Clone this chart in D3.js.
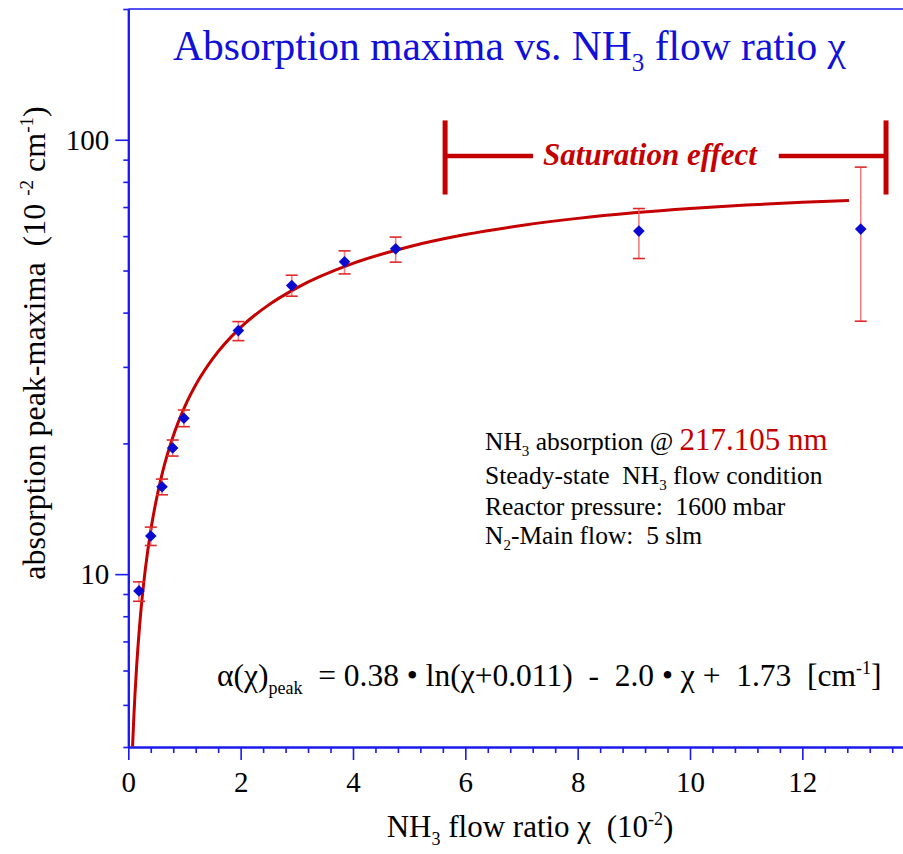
<!DOCTYPE html>
<html>
<head>
<meta charset="utf-8">
<script src="https://cdn.jsdelivr.net/npm/d3@7/dist/d3.min.js"></script>
<style>
  html, body { margin: 0; padding: 0; background: #fff; }
  svg { display: block; font-family: "Liberation Serif", "Times New Roman", serif; }
  svg text { font-family: "Liberation Serif", "Times New Roman", serif !important; white-space: pre; }
</style>
</head>
<body>
<svg id="chart" width="903" height="854"></svg>
<script>
// ---------- data ----------
const flowRatio   = [0.19, 0.40, 0.60, 0.79, 0.99, 1.96, 2.91, 3.85, 4.76, 9.09, 13.04];
const peakMaxima  = [9.15, 12.24, 15.89, 19.51, 22.85, 36.36, 46.16, 52.35, 56.09, 61.62, 62.28];
const errUpper    = [9.60, 12.83, 16.55, 20.36, 23.87, 38.14, 48.77, 55.49, 59.69, 69.45, 86.5];
const errLower    = [8.66, 11.64, 15.23, 18.70, 21.85, 34.48, 43.64, 49.11, 52.27, 53.28, 38.22];

// fitted curve as drawn (values of the printed fit)
const fitX = [0.076, 0.1, 0.12, 0.15, 0.2, 0.25, 0.3, 0.4, 0.5, 0.6, 0.8, 1.0, 1.25, 1.5, 2, 2.5, 3, 4, 5, 6, 7, 8, 9, 10, 11, 12, 12.83];
const fitY = [4.01, 4.73, 5.32, 6.18, 7.57, 8.91, 10.19, 12.61, 14.86, 16.97, 20.79, 24.20, 27.97, 31.31, 37.00, 41.68, 45.62, 51.92, 56.72, 60.49, 63.49, 65.92, 67.88, 69.47, 70.74, 71.76, 72.44];

const xMajorTicks = [0, 2, 4, 6, 8, 10, 12];
const xTickLabels = ["0", "2", "4", "6", "8", "10", "12"];
const yMajorTicks = [10, 100];
const yTickLabels = ["10", "100"];
const yMinorTicks = [4, 5, 6, 7, 8, 9, 20, 30, 40, 50, 60, 70, 80, 90, 200];

// saturation bracket (data coordinates)
const satLeft = 5.64, satRight = 13.49, satY = 91.8, satTop = 110.8, satBottom = 74.8;
const satGapLeft = 7.205, satGapRight = 11.58;

// ---------- layout ----------
const svg = d3.select("#chart");
const W = 903, H = 854;
const x0 = 128.3, pxPerUnit = 56.17;
const plotTop = 9, plotBottom = 747;

const x = d3.scaleLinear().domain([0, 14]).range([x0, x0 + 14 * pxPerUnit]);
const y = d3.scaleLog().domain([4, 200]).range([plotBottom, plotTop]);

const axisBlue = "#1a1aee";
const darkRed = "#c40000";

svg.append("rect").attr("width", W).attr("height", H).attr("fill", "#fff");

svg.append("defs").append("clipPath").attr("id", "plotclip")
  .append("rect").attr("x", x0).attr("y", plotTop).attr("width", W - x0).attr("height", plotBottom - plotTop);

// top frame line
svg.append("line").attr("x1", x0).attr("x2", W).attr("y1", plotTop).attr("y2", plotTop)
  .attr("stroke", axisBlue).attr("stroke-width", 1.6);

// ---------- axes ----------
const xMinor = [];
for (let i = 0; i <= 35; i++) if (i % 5 !== 0) xMinor.push(i * 0.4);

function styleAxis(g) {
  g.attr("font-family", null).attr("font-size", null);
  g.selectAll("path.domain").attr("stroke", axisBlue).attr("stroke-width", 2);
  g.selectAll(".tick line").attr("stroke", axisBlue).attr("stroke-width", 1.6);
  g.selectAll(".tick text").attr("fill", "#000").style("font-size", "29px");
}

svg.append("g").attr("transform", `translate(0,${plotBottom})`)
  .call(d3.axisBottom(x).tickValues(xMinor).tickSize(6).tickSizeOuter(0).tickFormat(""))
  .call(styleAxis);
svg.append("g").attr("transform", `translate(0,${plotBottom})`)
  .call(d3.axisBottom(x).tickValues(xMajorTicks).tickSize(13).tickSizeOuter(0).tickPadding(11)
        .tickFormat((d, i) => xTickLabels[i]))
  .call(styleAxis);

svg.append("g").attr("transform", `translate(${x0},0)`)
  .call(d3.axisLeft(y).tickValues(yMinorTicks).tickSize(5).tickSizeOuter(0).tickFormat(""))
  .call(styleAxis);
svg.append("g").attr("transform", `translate(${x0},0)`)
  .call(d3.axisLeft(y).tickValues(yMajorTicks).tickSize(13).tickSizeOuter(0).tickPadding(6)
        .tickFormat((d, i) => yTickLabels[i]))
  .call(styleAxis);

// ---------- fit curve ----------
const fitData = fitX.map((d, i) => [d, fitY[i]]);
svg.append("path").datum(fitData)
  .attr("clip-path", "url(#plotclip)")
  .attr("fill", "none").attr("stroke", darkRed).attr("stroke-width", 3)
  .attr("d", d3.line().x(d => x(d[0])).y(d => y(d[1])).curve(d3.curveMonotoneX));

// ---------- error bars ----------
const pts = flowRatio.map((d, i) => ({ x: d, y: peakMaxima[i], hi: errUpper[i], lo: errLower[i] }));
const eb = svg.append("g");
eb.selectAll("line.v").data(pts).join("line")
  .attr("x1", d => x(d.x)).attr("x2", d => x(d.x))
  .attr("y1", d => y(d.hi)).attr("y2", d => y(d.lo))
  .attr("stroke", "#ee6060").attr("stroke-opacity", 0.8).attr("stroke-width", 1.6);
const capW = 6;
["hi", "lo"].forEach(k => {
  eb.selectAll("line.c" + k).data(pts).join("line")
    .attr("x1", d => x(d.x) - capW).attr("x2", d => x(d.x) + capW)
    .attr("y1", d => y(d[k])).attr("y2", d => y(d[k]))
    .attr("stroke", "#e02828").attr("stroke-width", 1.6);
});

// ---------- markers ----------
const r = 5.8;
svg.append("g").selectAll("path").data(pts).join("path")
  .attr("d", d => `M${x(d.x)},${y(d.y) - r}L${x(d.x) + r},${y(d.y)}L${x(d.x)},${y(d.y) + r}L${x(d.x) - r},${y(d.y)}Z`)
  .attr("fill", "#0a0ad0");

// ---------- saturation bracket ----------
const sat = svg.append("g").attr("stroke", darkRed).attr("stroke-width", 5);
sat.append("line").attr("x1", x(satLeft)).attr("x2", x(satLeft)).attr("y1", y(satTop)).attr("y2", y(satBottom));
sat.append("line").attr("x1", x(satRight)).attr("x2", x(satRight)).attr("y1", y(satTop)).attr("y2", y(satBottom));
sat.append("line").attr("x1", x(satLeft)).attr("x2", x(satGapLeft)).attr("y1", y(satY)).attr("y2", y(satY)).attr("stroke-width", 4.5);
sat.append("line").attr("x1", x(satGapRight)).attr("x2", x(satRight)).attr("y1", y(satY)).attr("y2", y(satY)).attr("stroke-width", 4.5);
svg.append("text").attr("x", 650).attr("y", 165)
  .attr("text-anchor", "middle").attr("fill", darkRed)
  .style("font-size", "31px").style("font-weight", "bold").style("font-style", "italic")
  .text("Saturation effect");

// ---------- title ----------
const title = svg.append("text").attr("x", 509.5).attr("y", 60).attr("text-anchor", "middle")
  .attr("fill", "#1010d8").style("font-size", "41.5px");
title.append("tspan").text("Absorption maxima vs. NH");
title.append("tspan").attr("dy", 11).style("font-size", "25px").text("3");
title.append("tspan").attr("dy", -11).text(" flow ratio χ");

// ---------- axis labels ----------
const xl = svg.append("text").attr("x", 530).attr("y", 837).attr("text-anchor", "middle")
  .attr("fill", "#000").style("font-size", "31px");
xl.append("tspan").text("NH");
xl.append("tspan").attr("dy", 8).style("font-size", "18px").text("3");
xl.append("tspan").attr("dy", -8).text(" flow ratio χ  (10");
xl.append("tspan").attr("dy", -12).style("font-size", "18px").text("-2");
xl.append("tspan").attr("dy", 12).text(")");

const yl = svg.append("text").attr("transform", "translate(45,343) rotate(-90)")
  .attr("text-anchor", "middle").attr("fill", "#000").style("font-size", "32px");
yl.append("tspan").text("absorption peak-maxima  (10 ");
yl.append("tspan").attr("dy", -12).style("font-size", "19px").text("-2");
yl.append("tspan").attr("dy", 12).text(" cm");
yl.append("tspan").attr("dy", -12).style("font-size", "19px").text("-1");
yl.append("tspan").attr("dy", 12).text(")");

// ---------- info block ----------
const info = svg.append("g").style("font-size", "25.5px").attr("fill", "#000");
const l1 = info.append("text").attr("x", 485).attr("y", 450);
l1.append("tspan").text("NH");
l1.append("tspan").attr("dy", 6).style("font-size", "15px").text("3");
l1.append("tspan").attr("dy", -6).text(" absorption @ ");
l1.append("tspan").attr("fill", darkRed).style("font-size", "31px").text("217.105 nm");

const l2 = info.append("text").attr("x", 485).attr("y", 484);
l2.append("tspan").text("Steady-state  NH");
l2.append("tspan").attr("dy", 6).style("font-size", "15px").text("3");
l2.append("tspan").attr("dy", -6).text(" flow condition");

info.append("text").attr("x", 485).attr("y", 515).text("Reactor pressure:  1600 mbar");

const l4 = info.append("text").attr("x", 485).attr("y", 544);
l4.append("tspan").text("N");
l4.append("tspan").attr("dy", 6).style("font-size", "15px").text("2");
l4.append("tspan").attr("dy", -6).text("-Main flow:  5 slm");

// ---------- equation ----------
const eq = svg.append("text").attr("x", 217).attr("y", 686).attr("fill", "#000").style("font-size", "31.5px");
eq.append("tspan").text("α(χ)");
eq.append("tspan").attr("dy", 8).style("font-size", "18px").text("peak");
eq.append("tspan").attr("dy", -8).text("  = 0.38 • ln(χ+0.011)  -  2.0 • χ +  1.73  [cm");
eq.append("tspan").attr("dy", -12).style("font-size", "18px").text("-1");
eq.append("tspan").attr("dy", 12).text("]");
</script>
</body>
</html>
